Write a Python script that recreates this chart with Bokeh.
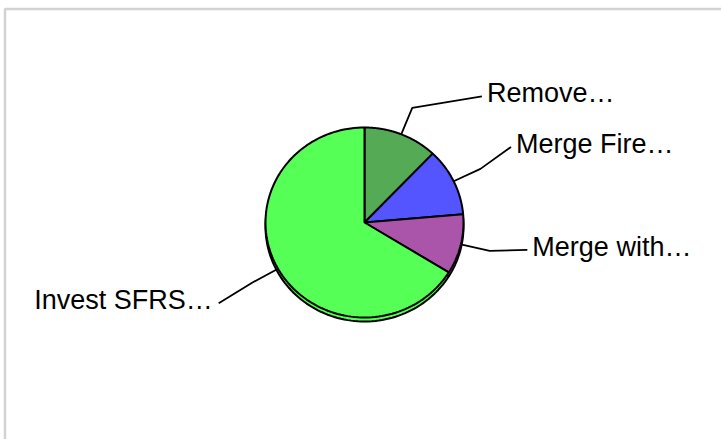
import numpy as np
from bokeh.plotting import figure
from bokeh.models import Range1d, ColumnDataSource
from bokeh.embed import file_html
from bokeh.resources import INLINE
from bokeh.core.properties import value

# ---- data ----
labels = ["Remove…", "Merge Fire…", "Merge with…", "Invest SFRS…"]
values = [12.1, 11.5, 10.2, 66.2]
colors = ["#55aa55", "#5555ff", "#aa55aa", "#55ff55"]

# ---- layout ----
W, H = 721, 439
CX, CY = 364, 222          # pie centre (page pixels)
RX, RY = 99, 95            # slightly tilted pie
SHADOW = 4
ELBOW_K = 1.3
label_shift_deg = [20.0, -2.5, -3.4, -0.8]
label_k = [1.78, 1.68, 1.67, 1.70]

vals = np.array(values, dtype=float)
frac = vals / vals.sum()
ends = np.cumsum(frac) * 2 * np.pi
starts = ends - frac * 2 * np.pi
mids = (starts + ends) / 2


def pt(t, k=1.0):
    return CX + k * RX * np.sin(t), CY - k * RY * np.cos(t)


xs, ys = [], []
for s, e in zip(starts, ends):
    t = np.linspace(s, e, 120)
    x, y = pt(t)
    xs.append([CX] + list(x))
    ys.append([CY] + list(y))

p = figure(width=W, height=H, x_range=Range1d(0, W), y_range=Range1d(H, 0),
           output_backend="svg", toolbar_location=None, min_border=0,
           x_axis_location=None, y_axis_location=None)
p.grid.visible = False
p.outline_line_color = None
p.background_fill_color = "white"
p.border_fill_color = "white"

# chart frame
p.quad(left=[4.5], right=[W + 60], top=[8.5], bottom=[H + 60],
       fill_color=None, line_color="#d2d2d2", line_width=2.5)

# shadow
p.patches(xs=xs, ys=[[v + SHADOW for v in yy] for yy in ys], fill_color=colors,
          line_color="black", line_width=2)
# pie
p.patches(xs=xs, ys=ys, fill_color=colors, line_color="black", line_width=2)

# leader lines + labels
lx, ly, tx, ty, ta = [], [], [], [], []
for i, m in enumerate(mids):
    ex, ey = pt(m, 1.0)
    bx, by = pt(m, ELBOW_K)
    m2 = m + np.deg2rad(label_shift_deg[i])
    fx, fy = pt(m2, label_k[i])
    lx.append([ex, bx, fx])
    ly.append([ey, by, fy])
    right = np.sin(m) >= 0
    tx.append(fx + 5 if right else fx - 6)
    ty.append(fy - 3)
    ta.append("left" if right else "right")

p.multi_line(xs=lx, ys=ly, line_color="black", line_width=1.8)
src = ColumnDataSource(dict(x=tx, y=ty, text=labels, align=ta))
p.text(x="x", y="y", text="text", source=src, text_align="align",
       text_baseline="middle", text_font=value("Liberation Sans"),
       text_font_size="27px", text_color="black")

open("out.html", "w").write(file_html(p, INLINE))
